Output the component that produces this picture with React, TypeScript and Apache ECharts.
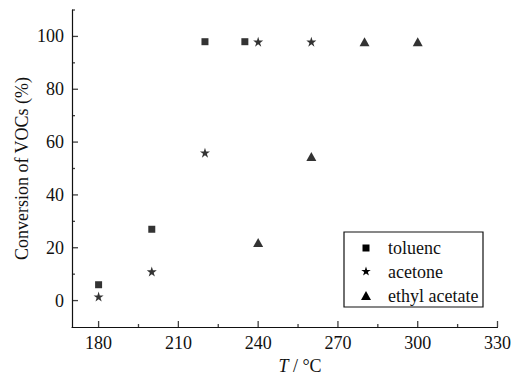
import React, { useEffect, useRef } from "react";
import * as echarts from "echarts";

const seriesNames = ["toluenc", "acetone", "ethyl acetate"];
const tolueneData: [number, number][] = [
  [180, 6],
  [200, 27],
  [220, 98],
  [235, 98],
];
const acetoneData: [number, number][] = [
  [180, 1.5],
  [200, 11],
  [220, 56],
  [240, 98],
  [260, 98],
];
const ethylAcetateData: [number, number][] = [
  [240, 22],
  [260, 54.5],
  [280, 98],
  [300, 98],
];
const xMin = 170;
const xMax = 330;
const yMin = -10;
const yMax = 110;
const xMajorTicks = [180, 210, 240, 270, 300, 330];
const xMinorTicks = [195, 225, 255, 285, 315];
const yMajorTicks = [0, 20, 40, 60, 80, 100];
const yMinorTicks = [10, 30, 50, 70, 90, 110];

const STAR_D =
  "M50,0 L61.2,34.5 L97.6,34.5 L68.2,55.9 L79.4,90.5 L50,69.1 L20.6,90.5 L31.8,55.9 L2.4,34.5 L38.8,34.5 Z";
const STAR = "path://" + STAR_D;
const FONT = "Liberation Serif";
const INK = "#111";
const MAJOR = 6;
const MINOR = 3;
const TW = 1.3;

echarts.graphic.registerShape("legendStar", echarts.graphic.extendPath(STAR_D, {}) as any);

// axis ticks drawn as thin rectangular scatter symbols placed by the axes' scales
function tickSeries(name: string, data: number[][], len: number, vertical: boolean) {
  return {
    name,
    type: "scatter",
    silent: true,
    clip: false,
    z: 5,
    symbol: "rect",
    symbolSize: vertical ? [TW, len] : [len, TW],
    symbolOffset: vertical ? [0, -len / 2] : [len / 2, 0],
    itemStyle: { color: INK },
    emphasis: { disabled: true },
    data,
  };
}

export default function App() {
  const ref = useRef<HTMLDivElement>(null);
  useEffect(() => {
    if (!ref.current) return;
    const chart = echarts.init(ref.current, undefined, { renderer: "svg" });
    const axisLine = { show: true, onZero: false, lineStyle: { color: INK, width: 1.2 } };

    // legend (drawn as graphic for exact box layout)
    const lgLeft = 344;
    const lgTop = 232;
    const lgW = 139;
    const lgH = 75;
    const symX = 366;
    const textX = 388;
    const rowY = [248, 271.5, 295.5];
    const legendText = (t: string, y: number) => ({
      type: "text",
      x: textX,
      y,
      style: {
        text: t,
        fill: INK,
        font: `18px ${FONT}`,
        align: "left",
        verticalAlign: "middle",
      },
    });
    const legendGraphic = {
      type: "group",
      children: [
        {
          type: "rect",
          shape: { x: lgLeft, y: lgTop, width: lgW, height: lgH },
          style: { fill: "#fff", stroke: INK, lineWidth: 1.2 },
        },
        {
          type: "rect",
          shape: { x: symX - 3.5, y: rowY[0] - 3.5, width: 7, height: 7 },
          style: { fill: "#000" },
        },
        {
          type: "legendStar",
          x: symX - 5,
          y: rowY[1] - 5,
          scaleX: 0.1,
          scaleY: 0.1,
          style: { fill: "#000" },
        },
        {
          type: "polygon",
          shape: {
            points: [
              [symX, rowY[2] - 4.5],
              [symX + 5, rowY[2] + 4.5],
              [symX - 5, rowY[2] + 4.5],
            ],
          },
          style: { fill: "#000" },
        },
        legendText(seriesNames[0], rowY[0]),
        legendText(seriesNames[1], rowY[1]),
        legendText(seriesNames[2], rowY[2]),
      ],
    };

    chart.setOption({
      animation: false,
      backgroundColor: "#fff",
      textStyle: { fontFamily: FONT },
      grid: { left: 72, right: 16, top: 10, bottom: 50, containLabel: false },
      xAxis: {
        type: "value",
        min: xMin,
        max: xMax,
        axisLine,
        splitLine: { show: false },
        axisTick: { show: false },
        axisLabel: {
          customValues: xMajorTicks,
          color: INK,
          fontFamily: FONT,
          fontSize: 18,
          margin: 7,
        },
      },
      yAxis: {
        type: "value",
        min: yMin,
        max: yMax,
        axisLine,
        splitLine: { show: false },
        axisTick: { show: false },
        axisLabel: {
          customValues: yMajorTicks,
          color: INK,
          fontFamily: FONT,
          fontSize: 18,
          margin: 8,
        },
        name: "Conversion of VOCs (%)",
        nameLocation: "middle",
        nameGap: 41,
        nameMoveOverlap: false,
        nameTextStyle: { color: INK, fontFamily: FONT, fontSize: 18 },
      },
      graphic: [
        legendGraphic,
        {
          type: "text",
          x: 300,
          y: 366,
          style: {
            text: "{i|T} / °C",
            fill: INK,
            font: `18px ${FONT}`,
            align: "center",
            verticalAlign: "middle",
            rich: { i: { fontStyle: "italic", fontFamily: FONT, fontSize: 18, fill: INK } },
          },
        },
      ],
      series: [
        tickSeries("xMajorTicks", xMajorTicks.map((v) => [v, yMin]), MAJOR, true),
        tickSeries("xMinorTicks", xMinorTicks.map((v) => [v, yMin]), MINOR, true),
        tickSeries("yMajorTicks", yMajorTicks.map((v) => [xMin, v]), MAJOR, false),
        tickSeries("yMinorTicks", yMinorTicks.map((v) => [xMin, v]), MINOR, false),
        {
          name: seriesNames[0],
          type: "scatter",
          symbol: "rect",
          symbolSize: 7,
          itemStyle: { color: "#000" },
          data: tolueneData,
        },
        {
          name: seriesNames[1],
          type: "scatter",
          symbol: STAR,
          symbolSize: 10,
          itemStyle: { color: "#000" },
          data: acetoneData,
        },
        {
          name: seriesNames[2],
          type: "scatter",
          symbol: "triangle",
          symbolSize: [10, 9],
          itemStyle: { color: "#000" },
          data: ethylAcetateData,
        },
      ],
    });
    return () => chart.dispose();
  }, []);
  return (
    <div
      ref={ref}
      style={{ position: "fixed", left: 0, top: 0, width: 514, height: 377, background: "#fff" }}
    />
  );
}
